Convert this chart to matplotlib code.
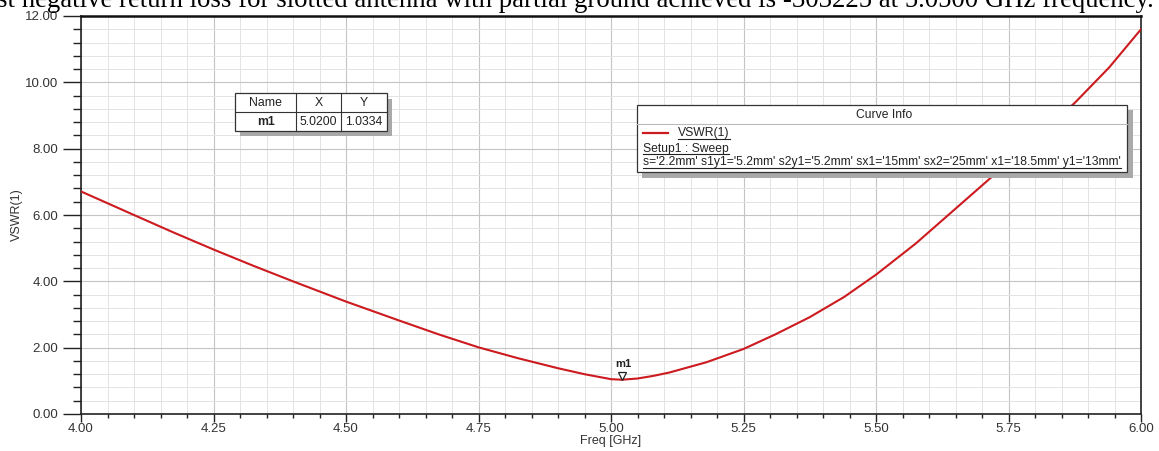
import matplotlib
matplotlib.use("Agg")
import matplotlib.pyplot as plt
from matplotlib.patches import Rectangle
from matplotlib.lines import Line2D
from matplotlib.ticker import MultipleLocator, FormatStrFormatter
import matplotlib.transforms as mtransforms

# ---- data ----
freq = [4.00, 4.10, 4.175, 4.25, 4.325, 4.40, 4.50, 4.60, 4.675, 4.75, 4.825,
        4.90, 4.95, 5.00, 5.02, 5.05, 5.08, 5.11, 5.18, 5.25, 5.31, 5.375,
        5.44, 5.50, 5.575, 5.64, 5.73, 5.80, 5.875, 5.94, 6.00]
vswr = [6.71, 6.00, 5.47, 4.96, 4.47, 4.00, 3.39, 2.82, 2.40, 2.01, 1.68,
        1.38, 1.20, 1.05, 1.0334, 1.07, 1.15, 1.25, 1.56, 1.96, 2.40, 2.92,
        3.53, 4.20, 5.14, 6.05, 7.31, 8.30, 9.38, 10.45, 11.60]
marker_name = "m1"
marker_x = 5.02
marker_y = 1.0334
x_ticks = [4.00, 4.25, 4.50, 4.75, 5.00, 5.25, 5.50, 5.75, 6.00]
y_ticks = [0, 2, 4, 6, 8, 10, 12]
caption = ("st negative return loss for slotted antenna with partial ground "
           "achieved is -303225 at 5.0500 GHz frequency.")
legend_label = "VSWR(1)"
setup_label = "Setup1 : Sweep"
param_label = ("s='2.2mm' s1y1='5.2mm' s2y1='5.2mm' sx1='15mm' sx2='25mm' "
               "x1='18.5mm' y1='13mm'")

W, H = 1159, 451
plt.rcParams['font.family'] = ['Liberation Sans', 'DejaVu Sans']
fig = plt.figure(figsize=(W / 100, H / 100), dpi=100)
fig.patch.set_facecolor('white')

def fx(px):
    return px / W

def fy(py):
    return 1 - py / H

ax = fig.add_axes([fx(81), fy(414), fx(1141) - fx(81), fy(16) - fy(414)])
red = '#cc1a1f'
ax.plot(freq, vswr, color=red, lw=1.5, zorder=3, solid_joinstyle='round')
ax.set_xlim(4.0, 6.0)
ax.set_ylim(0, 12)
ax.set_xticks(x_ticks)
ax.set_yticks(y_ticks)
ax.xaxis.set_minor_locator(MultipleLocator(0.05))
ax.yaxis.set_minor_locator(MultipleLocator(0.4))
ax.xaxis.set_major_formatter(FormatStrFormatter('%.2f'))
ax.yaxis.set_major_formatter(FormatStrFormatter('%.2f'))
ax.grid(which='major', color='#c4c4c4', lw=0.8, zorder=0)
ax.grid(which='minor', color='#e3e3e3', lw=0.7, zorder=0)
ax.set_axisbelow(True)
for s in ['left', 'bottom', 'right']:
    ax.spines[s].set_linewidth(1.2)
    ax.spines[s].set_color('#222222')
ax.spines['top'].set_linewidth(1.8)
ax.spines['top'].set_color('#111111')
ax.tick_params(axis='y', which='major', length=13, width=1.0, direction='out',
               pad=3.5, labelsize=9.5, labelcolor='#333333', color='#222222')
ax.tick_params(axis='y', which='minor', length=5.8, width=1.0, direction='out',
               color='#222222')
ax.tick_params(axis='x', which='major', length=5.8, width=1.0, direction='out',
               pad=0.5, labelsize=9.5, labelcolor='#333333', color='#222222')
ax.tick_params(axis='x', which='minor', length=2.9, width=1.0, direction='out',
               color='#222222')

# marker m1
tri_tr = mtransforms.offset_copy(ax.transData, fig=fig, x=0, y=3.5, units='dots')
ax.plot([marker_x], [marker_y], marker='v', ms=6, mfc='white', mec='#222222',
        mew=0.9, transform=tri_tr, zorder=4)
ax.annotate(marker_name, xy=(marker_x, marker_y), xytext=(1.5, 11.5),
            textcoords='offset points', ha='center', va='center',
            fontsize=8, fontweight='bold', color='#222222', zorder=5)

# axis labels
fig.text(fx(17), fy(215), 'VSWR(1)', rotation=90, ha='center', va='center',
         fontsize=9, color='#333333')
fig.text(fx(611), fy(441), 'Freq [GHz]', ha='center', va='center',
         fontsize=9, color='#333333')

# caption cropped at the top (only lower part visible in the reference)
fig.text(fx(-3), fy(7), caption, family='Liberation Serif', fontsize=19.3,
         va='baseline', ha='left', color='black')

def frect(x0, y0, x1, y1, **kw):
    r = Rectangle((fx(x0), fy(y1)), fx(x1) - fx(x0), fy(y0) - fy(y1),
                  transform=fig.transFigure, **kw)
    fig.add_artist(r)
    return r

def fline(x0, y0, x1, y1, **kw):
    l = Line2D([fx(x0), fx(x1)], [fy(y0), fy(y1)], transform=fig.transFigure, **kw)
    fig.add_artist(l)
    return l

# marker table
shadow = '#a9a9a9'
frect(240, 99, 392, 136, facecolor=shadow, edgecolor='none', zorder=10)
frect(235, 93, 387, 131, facecolor='white', edgecolor='#333333', lw=0.9, zorder=11)
fline(235, 112, 387, 112, color='#333333', lw=0.8, zorder=12)
fline(296, 93, 296, 131, color='#333333', lw=0.8, zorder=12)
fline(341, 93, 341, 131, color='#333333', lw=0.8, zorder=12)
tkw = dict(ha='center', va='center', fontsize=8.8, color='#222222', zorder=13)
fig.text(fx(265.5), fy(103), 'Name', **tkw)
fig.text(fx(318.5), fy(103), 'X', **tkw)
fig.text(fx(364), fy(103), 'Y', **tkw)
fig.text(fx(265.5), fy(122), marker_name, fontweight='bold', **tkw)
fig.text(fx(318.5), fy(122), f'{marker_x:.4f}', **tkw)
fig.text(fx(364), fy(122), f'{marker_y:.4f}', **tkw)

# curve info box
frect(642, 110, 1133, 178, facecolor=shadow, edgecolor='none', zorder=10)
frect(637, 105, 1127, 172, facecolor='white', edgecolor='#333333', lw=0.9, zorder=11)
fline(637, 124, 1127, 124, color='#bbbbbb', lw=0.8, zorder=12)
fig.text(fx(884), fy(115), 'Curve Info', ha='center', va='center',
         fontsize=8.7, color='#222222', zorder=13)
fline(643, 133, 668, 133, color=red, lw=1.6, zorder=12)
lkw = dict(ha='left', va='center', fontsize=8.7, color='#222222', zorder=13)
t1 = fig.text(fx(678), fy(133), legend_label, **lkw)
t2 = fig.text(fx(643), fy(148.5), setup_label, **lkw)
t3 = fig.text(fx(643), fy(162.5), param_label, **lkw)

fig.canvas.draw()
r = fig.canvas.get_renderer()
for t in (t1, t2, t3):
    bb = t.get_window_extent(r)
    y_under = bb.y0 + 0.5
    l = Line2D([bb.x0 / W, bb.x1 / W], [y_under / H, y_under / H],
               transform=fig.transFigure, color='#222222', lw=0.8, zorder=13)
    fig.add_artist(l)

fig.savefig('out.png', dpi=100, facecolor='white')
